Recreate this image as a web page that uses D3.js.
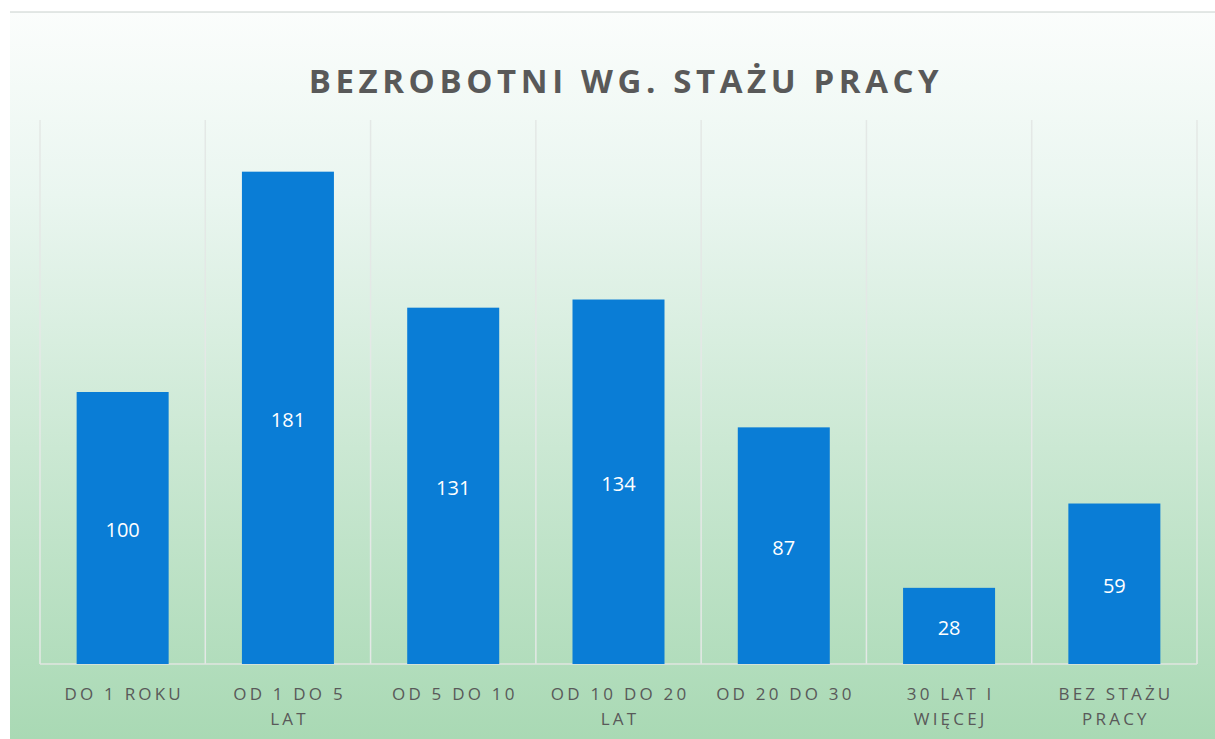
<!DOCTYPE html>
<html><head><meta charset="utf-8">
<script src="https://cdn.jsdelivr.net/npm/d3@7"></script>
<style>html,body{margin:0;padding:0;background:#fff;}svg{display:block;}</style>
</head><body>
<script>
const categories = [["DO 1 ROKU"],["OD 1 DO 5","LAT"],["OD 5 DO 10"],["OD 10 DO 20","LAT"],["OD 20 DO 30"],["30 LAT I","WIĘCEJ"],["BEZ STAŻU","PRACY"]];
const values = [100,181,131,134,87,28,59];
const title = "BEZROBOTNI WG. STAŻU PRACY";

const W=1215,H=739;
const svg=d3.select("body").append("svg").attr("width",W).attr("height",H);
const defs=svg.append("defs");
const g=defs.append("linearGradient").attr("id","bg").attr("x1",0).attr("y1",0).attr("x2",0).attr("y2",1);
g.append("stop").attr("offset","0%").attr("stop-color","#fbfdfc");
g.append("stop").attr("offset","25%").attr("stop-color","#eaf6f0");
g.append("stop").attr("offset","60%").attr("stop-color","#cbe8d3");
g.append("stop").attr("offset","100%").attr("stop-color","#a9d9b4");
svg.append("rect").attr("x",10).attr("y",12).attr("width",W-10).attr("height",H-12).attr("fill","url(#bg)");
svg.append("line").attr("x1",10).attr("x2",W).attr("y1",12).attr("y2",12).attr("stroke","#c8d0cc").attr("stroke-width",1);

const xg=d3.scaleBand().domain(d3.range(values.length)).range([40,1197]);
const y=d3.scaleLinear().domain([0,200]).range([664,120]);
const cx=i=>xg(i)+xg.bandwidth()/2;

// gridlines
const bounds=d3.range(values.length+1).map(i=>i<values.length?xg(i):xg(values.length-1)+xg.bandwidth());
svg.selectAll("line.grid").data(bounds).join("line").attr("class","grid")
  .attr("x1",d=>d).attr("x2",d=>d).attr("y1",y(200)).attr("y2",y(0))
  .attr("stroke","#e4e8e6").attr("stroke-width",1.5);
svg.append("line").attr("x1",40).attr("x2",1197).attr("y1",y(0)).attr("y2",y(0)).attr("stroke","#e0e4e1").attr("stroke-width",1.5);

svg.selectAll("rect.bar").data(values).join("rect").attr("class","bar")
  .attr("x",(d,i)=>cx(i)-46).attr("width",92)
  .attr("y",d=>y(d)).attr("height",d=>y(0)-y(d)).attr("fill","#0a7dd6");

svg.selectAll("text.val").data(values).join("text").attr("class","val")
  .attr("x",(d,i)=>cx(i)).attr("y",d=>(y(d)+y(0))/2+9)
  .attr("text-anchor","middle").attr("fill","#fff").attr("font-family","Open Sans, sans-serif").attr("font-size",20).text(d=>d);

const lab=svg.selectAll("text.cat").data(categories).join("text").attr("class","cat")
  .attr("text-anchor","middle").attr("fill","#595959").attr("font-family","Open Sans, sans-serif")
  .attr("font-size",17).attr("letter-spacing","3.2px");
lab.each(function(d,i){
  const t=d3.select(this);
  d.forEach((s,j)=>t.append("tspan").attr("x",cx(i)+1.6).attr("y",700+j*25).text(s));
});

svg.append("text").attr("x",626).attr("y",93).attr("text-anchor","middle").attr("fill","#595959")
  .attr("font-family","Open Sans, sans-serif").attr("font-weight","bold").attr("font-size",33).attr("letter-spacing","4.6px").text(title);
</script>
</body></html>
